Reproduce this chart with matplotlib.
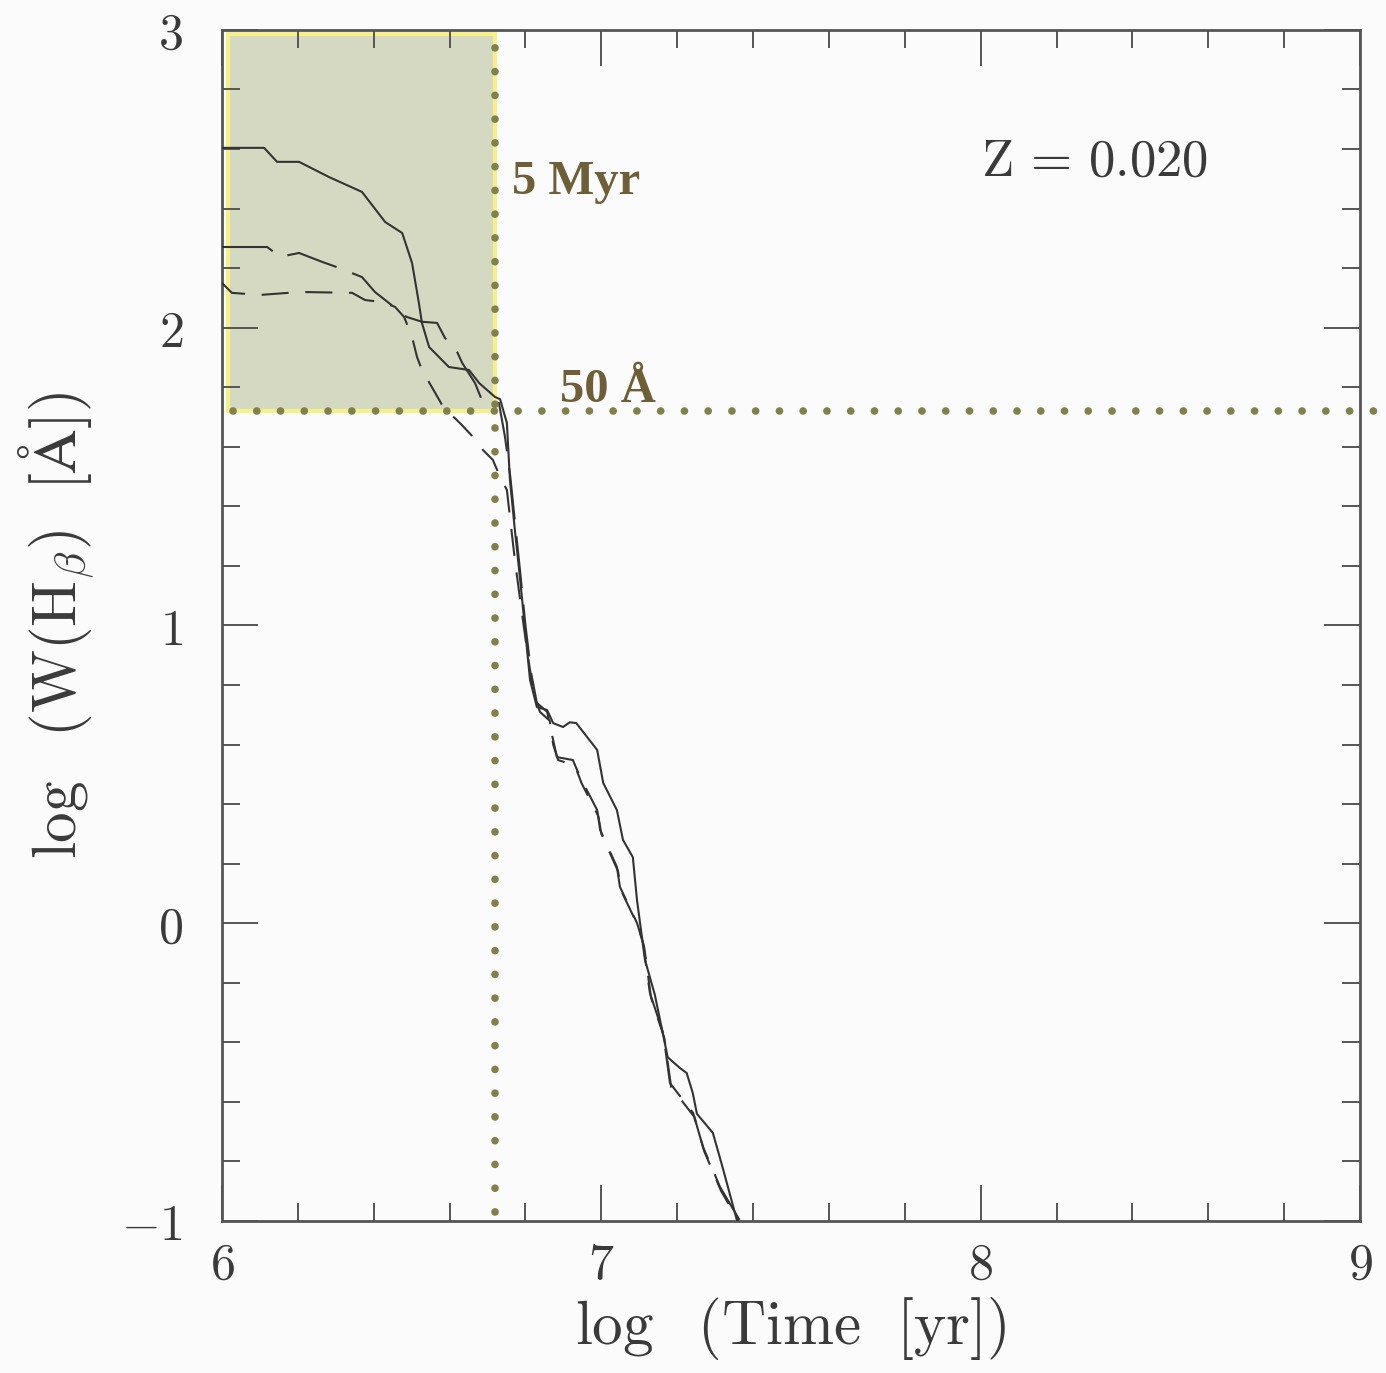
#!/usr/bin/env python3

import matplotlib
matplotlib.use("Agg")
import matplotlib.pyplot as plt
from matplotlib.patches import Rectangle

# Solid track
solid_t = [6.000, 6.111, 6.145, 6.203, 6.282, 6.369, 6.430, 6.475, 6.501, 6.519,
           6.527, 6.546, 6.598, 6.651, 6.678, 6.720, 6.733, 6.751, 6.759, 6.772,
           6.786, 6.799, 6.812, 6.830, 6.857, 6.873, 6.899, 6.917, 6.934, 6.989,
           7.005, 7.041, 7.057, 7.083, 7.094, 7.115, 7.141, 7.175, 7.207, 7.225,
           7.241, 7.252, 7.294, 7.318, 7.358]
solid_w = [2.604, 2.604, 2.557, 2.557, 2.506, 2.456, 2.355, 2.318, 2.217, 2.083,
           2.016, 1.935, 1.868, 1.858, 1.814, 1.767, 1.760, 1.680, 1.489, 1.321,
           1.153, 0.985, 0.817, 0.726, 0.716, 0.672, 0.659, 0.675, 0.672, 0.582,
           0.471, 0.380, 0.280, 0.222, 0.078, -0.123, -0.240, -0.450, -0.486, -0.503,
           -0.570, -0.640, -0.704, -0.812, -1.000]

# Long-dashed track
long_t = [6.000, 6.119, 6.153, 6.203, 6.264, 6.308, 6.369, 6.403, 6.487, 6.527,
          6.567, 6.588, 6.614, 6.633, 6.667, 6.685, 6.730, 6.746, 6.760, 6.772,
          6.786, 6.800, 6.815, 6.830, 6.857, 6.873, 6.883, 6.925, 6.944, 6.989,
          6.997, 7.041, 7.049, 7.094, 7.110, 7.128, 7.163, 7.181, 7.242, 7.268,
          7.313, 7.366]
long_w = [2.271, 2.271, 2.238, 2.251, 2.221, 2.201, 2.170, 2.120, 2.036, 2.020,
          2.016, 1.965, 1.935, 1.882, 1.814, 1.757, 1.747, 1.633, 1.500, 1.350,
          1.180, 1.000, 0.840, 0.740, 0.710, 0.615, 0.558, 0.548, 0.491, 0.380,
          0.313, 0.189, 0.122, 0.001, -0.066, -0.234, -0.369, -0.537, -0.637, -0.751,
          -0.886, -1.000]

# Short-dashed track
short_t = [6.000, 6.026, 6.100, 6.206, 6.343, 6.377, 6.422, 6.456, 6.480, 6.501,
           6.514, 6.527, 6.562, 6.583, 6.627, 6.662, 6.688, 6.714, 6.733, 6.751,
           6.760, 6.772, 6.786, 6.804, 6.820, 6.838, 6.864, 6.873, 6.886, 6.930,
           6.948, 6.992, 7.000, 7.044, 7.052, 7.097, 7.113, 7.131, 7.166, 7.184,
           7.245, 7.271, 7.316, 7.362]
short_w = [2.150, 2.117, 2.110, 2.120, 2.117, 2.093, 2.086, 2.070, 2.036, 1.969,
           1.902, 1.858, 1.781, 1.734, 1.680, 1.633, 1.589, 1.556, 1.499, 1.455,
           1.354, 1.220, 1.086, 0.918, 0.783, 0.710, 0.680, 0.600, 0.548, 0.530,
           0.470, 0.360, 0.300, 0.175, 0.110, -0.010, -0.080, -0.250, -0.385, -0.550,
           -0.650, -0.765, -0.900, -1.000]

x_ticks = [6, 7, 8, 9]
y_ticks = [-1, 0, 1, 2, 3]
age_cut = 6.72      # 5 Myr
ew_cut = 1.72       # 50 A

plt.rcParams["mathtext.fontset"] = "cm"
plt.rcParams["font.family"] = "serif"

fig = plt.figure(figsize=(13.86, 13.73), dpi=100, facecolor="#fbfbfb")
ax = fig.add_axes([0.1602, 0.1107, 0.821, 0.8675])
ax.set_facecolor("#fbfbfb")

# Shaded selection box
ax.add_patch(Rectangle((6.015, ew_cut), age_cut - 6.015, 2.985 - ew_cut,
                       facecolor="#d6d9c1", edgecolor="#f6f08c", lw=3, zorder=1))

line_col = "#333333"
ax.plot(solid_t, solid_w, "-", color=line_col, lw=1.5, zorder=3)
ax.plot(long_t, long_w, color=line_col, lw=1.5, ls=(0, (25, 8)), zorder=3)
ax.plot(short_t, short_w, color=line_col, lw=1.5, ls=(0, (13, 8)), zorder=3)

# Dotted cuts
dot_col = "#80814a"
ax.plot([age_cut, age_cut], [-0.97, 3.0], color=dot_col, lw=5.5,
        ls=(0, (0.01, 3.1)), dash_capstyle="round", zorder=4, clip_on=False)
ax.plot([6.03, 9.08], [ew_cut, ew_cut], color=dot_col, lw=5.5,
        ls=(0, (0.01, 3.1)), dash_capstyle="round", zorder=4, clip_on=False)

txt_col = "#6e5f38"
ax.text(age_cut + 0.045, 2.45, "5 Myr", family="Liberation Serif", weight="bold",
        fontsize=35, color=txt_col, va="baseline", ha="left")
ax.text(6.89, 1.75, "50 Å", family="Liberation Serif", weight="bold",
        fontsize=35, color=txt_col, va="baseline", ha="left")

ax.text(8.3, 2.56, r"$\mathrm{Z\,=\,0.020}$", fontsize=38, color="#3a3a3a",
        ha="center", va="center")

ax.set_xlim(6, 9)
ax.set_ylim(-1, 3)
ax.set_xticks(x_ticks)
ax.set_xticklabels([f"${v}$" for v in x_ticks])
ax.set_yticks(y_ticks)
ax.set_yticklabels([f"${v}$" for v in y_ticks])
ax.set_xticks([6 + 0.2 * i for i in range(16)], minor=True)
ax.set_yticks([-1 + 0.2 * i for i in range(21)], minor=True)

ax.tick_params(which="both", direction="in", top=True, right=True,
               color="#555555", width=1.4, labelsize=36, labelcolor="#3a3a3a")
ax.tick_params(which="major", length=26)
ax.tick_params(axis="y", which="major", pad=28)
ax.tick_params(axis="x", which="major", pad=14)
ax.tick_params(which="minor", length=13)
for s in ax.spines.values():
    s.set_color("#555555")
    s.set_linewidth(2)

ax.set_xlabel(r"$\log\ \ (\mathrm{Time\ \ [yr]})$", fontsize=44, color="#3a3a3a",
              labelpad=4)
ax.set_ylabel(r"$\log\ \ (\mathrm{W(H}_{\beta}\mathrm{)\ \ [\AA]})$", fontsize=44,
              color="#3a3a3a", labelpad=18)

fig.savefig("out.png", dpi=100, facecolor=fig.get_facecolor())
